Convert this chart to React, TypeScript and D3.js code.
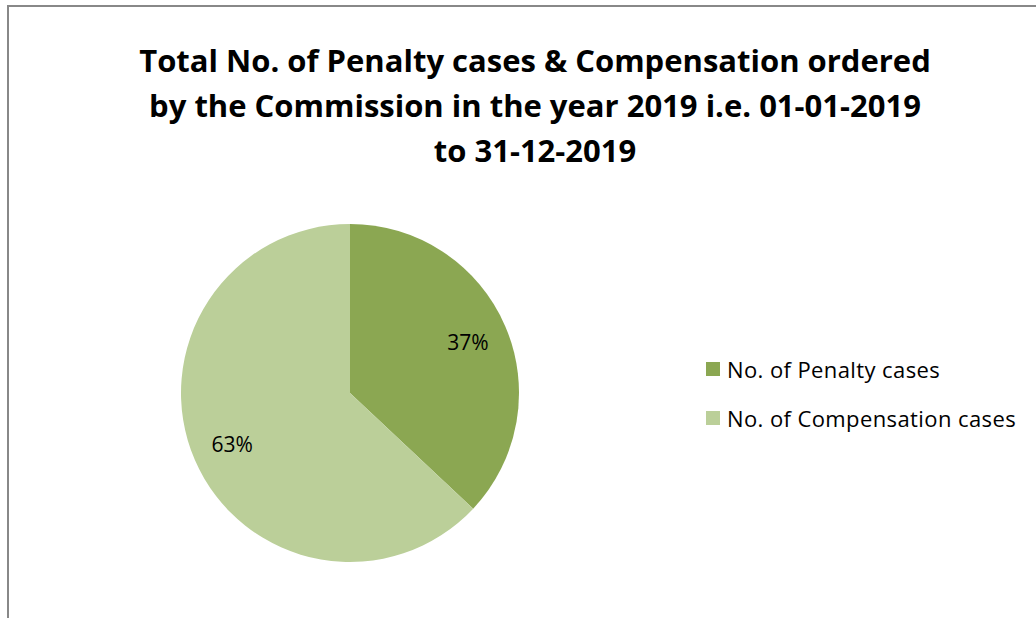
import React from 'react'
import * as d3 from 'd3'

const CATEGORIES = ['No. of Penalty cases', 'No. of Compensation cases']
const SHARES = [37, 63]
const COLORS = ['#8ba752', '#bbcf99']
const TITLE_LINES = [
  'Total No. of Penalty cases & Compensation ordered',
  'by the Commission in the year 2019 i.e. 01-01-2019',
  'to 31-12-2019',
]

const W = 1036
const H = 618
const FONT = '"Open Sans", Lato, sans-serif'

export default function App() {
  const cx = 350
  const cy = 393
  const r = 169

  const pie = d3.pie<number>().sort(null).value((d) => d)
  const arcs = pie(SHARES)
  const arc = d3.arc<d3.PieArcDatum<number>>().innerRadius(0).outerRadius(r)
  const labelArc = d3.arc<d3.PieArcDatum<number>>().innerRadius(r * 0.76).outerRadius(r * 0.76)
  const total = d3.sum(SHARES)

  const legendY = d3.scalePoint<string>().domain(CATEGORIES).range([369, 418])

  return (
    <svg width={W} height={H} style={{ position: 'absolute', left: 0, top: 0 }}>
      <rect x={0} y={0} width={W} height={H} fill="#fff" />
      <path d={`M8,${H} L8,6 L${W},6`} fill="none" stroke="#888" strokeWidth={2} />
      <g fontFamily={FONT} fontWeight="bold" fontSize={31} fill="#000" textAnchor="middle">
        {TITLE_LINES.map((t, i) => (
          <text key={i} x={535} y={72 + i * 45}>{t}</text>
        ))}
      </g>
      <g transform={`translate(${cx},${cy})`}>
        {arcs.map((a, i) => (
          <path key={i} d={arc(a) || ''} fill={COLORS[i]} />
        ))}
        {arcs.map((a, i) => {
          const [lx, ly] = labelArc.centroid(a)
          return (
            <text key={'l' + i} x={lx} y={ly} fontFamily={FONT} fontSize={21}
              textAnchor="middle" dominantBaseline="central">
              {Math.round((a.data / total) * 100)}%
            </text>
          )
        })}
      </g>
      <g fontFamily={FONT} fontSize={22} letterSpacing={0.4}>
        {CATEGORIES.map((c, i) => (
          <g key={c} transform={`translate(706,${legendY(c)})`}>
            <rect x={0} y={-7} width={14} height={14} fill={COLORS[i]} />
            <text x={21} y={0} dominantBaseline="central">{c}</text>
          </g>
        ))}
      </g>
    </svg>
  )
}
